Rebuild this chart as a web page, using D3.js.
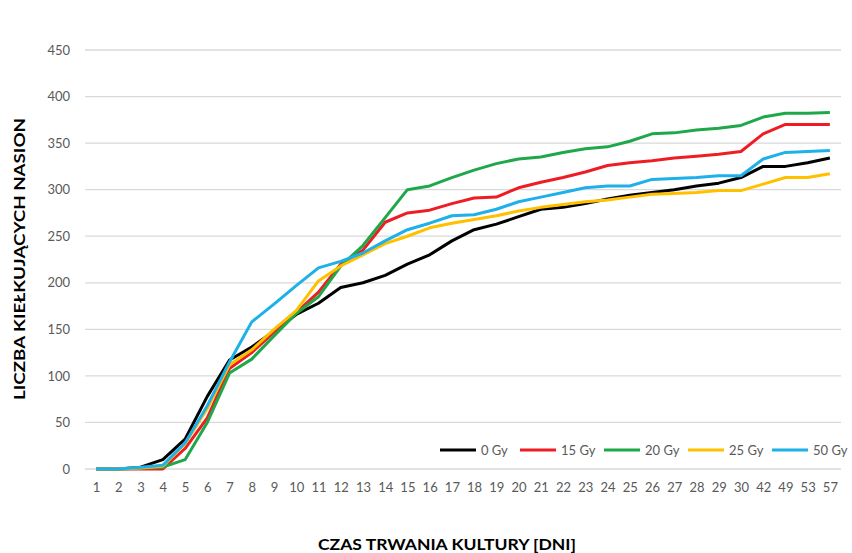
<!DOCTYPE html>
<html>
<head>
<meta charset="utf-8">
<script src="https://cdn.jsdelivr.net/npm/d3@7"></script>
<style>
  body { margin: 0; background: #fff; }
  svg { display: block; font-family: Lato, "Open Sans", sans-serif; }
</style>
</head>
<body>
<div id="chart"></div>
<script>
// days of culture (x categories)
const days = ["1","2","3","4","5","6","7","8","9","10","11","12","13","14","15","16","17",
  "18","19","20","21","22","23","24","25","26","27","28","29","30","42","49","53","57"];

// germinating seeds per dose
const gy0  = [0,0,2,10,32,78,117,131,148,166,178,195,200,208,220,230,245,257,263,271,279,281,285,290,294,297,300,304,307,313,325,325,329,334];
const gy15 = [0,0,0,0,22,55,108,125,147,168,190,220,235,265,275,278,285,291,292,302,308,313,319,326,329,331,334,336,338,341,360,370,370,370];
const gy20 = [0,0,1,2,10,50,103,118,143,167,185,218,240,270,300,304,313,321,328,333,335,340,344,346,352,360,361,364,366,369,378,382,382,383];
const gy25 = [0,0,1,3,27,65,112,128,150,170,202,218,230,242,250,259,264,268,272,277,281,284,287,289,292,295,296,297,299,299,306,313,313,317];
const gy50 = [0,0,2,4,28,68,115,158,177,197,216,223,232,245,257,264,272,273,279,287,292,297,302,304,304,311,312,313,315,315,333,340,341,342];

const seriesNames = ["0 Gy","15 Gy","20 Gy","25 Gy","50 Gy"];
const seriesColors = ["#000000","#EE1D24","#1FA84A","#FFC000","#1EB0E8"];
const yTicks = [0,50,100,150,200,250,300,350,400,450];

const series = [gy0, gy15, gy20, gy25, gy50].map((vals, i) => ({
  name: seriesNames[i], color: seriesColors[i], values: vals
}));

var width = 852, height = 553;
var margin = {top: 50, right: 11, bottom: 84, left: 85};
var innerW = width - margin.left - margin.right,
    innerH = height - margin.top - margin.bottom;

var svg = d3.select("#chart").append("svg")
  .attr("width", width).attr("height", height);

var g = svg.append("g")
  .attr("transform", "translate(" + margin.left + "," + margin.top + ")");

var x = d3.scalePoint().domain(days).range([0, innerW]).padding(0.5);
var y = d3.scaleLinear().domain([0, 450]).range([innerH, 0]);

// gridlines
g.append("g").selectAll("line")
  .data(yTicks).enter().append("line")
  .attr("x1", 0).attr("x2", innerW)
  .attr("y1", d => y(d)).attr("y2", d => y(d))
  .attr("stroke", "#D9D9D9").attr("stroke-width", 1.3);

// y axis labels
var yAxis = g.append("g").call(d3.axisLeft(y).tickValues(yTicks).tickSize(0).tickPadding(15));
yAxis.select(".domain").remove();
yAxis.selectAll("text").attr("fill", "#595959").style("font-size", "13px")
  .style("font-family", "Lato, 'Open Sans', sans-serif");

// x axis labels
var xAxis = g.append("g").attr("transform", "translate(0," + innerH + ")")
  .call(d3.axisBottom(x).tickSize(0).tickPadding(14));
xAxis.select(".domain").remove();
xAxis.selectAll("text").attr("fill", "#595959").style("font-size", "13px")
  .style("font-family", "Lato, 'Open Sans', sans-serif");

// lines
var line = d3.line()
  .x((d, i) => x(days[i]))
  .y(d => y(d));

g.append("g").selectAll("path")
  .data(series).enter().append("path")
  .attr("d", d => line(d.values))
  .attr("fill", "none")
  .attr("stroke", d => d.color)
  .attr("stroke-width", 3)
  .attr("stroke-linejoin", "round");

// legend
var legendX = [440, 520, 604, 688, 772];
var legend = svg.append("g").attr("transform", "translate(0,450)");
var items = legend.selectAll("g").data(series).enter().append("g")
  .attr("transform", (d, i) => "translate(" + legendX[i] + ",0)");
items.append("line").attr("x1", 0).attr("x2", 36).attr("y1", 0).attr("y2", 0)
  .attr("stroke", d => d.color).attr("stroke-width", 3);
items.append("text").attr("x", 41).attr("y", 5)
  .attr("fill", "#595959").style("font-size", "13px")
  .text(d => d.name);

// axis titles
svg.append("text")
  .attr("x", 447).attr("y", 550)
  .attr("text-anchor", "middle")
  .attr("textLength", 258).attr("lengthAdjust", "spacingAndGlyphs")
  .style("font-weight", "bold").style("font-size", "16px").attr("fill", "#000")
  .text("CZAS TRWANIA KULTURY [DNI]");

svg.append("text")
  .attr("transform", "translate(25,259) rotate(-90)")
  .attr("text-anchor", "middle")
  .attr("textLength", 282).attr("lengthAdjust", "spacingAndGlyphs")
  .style("font-weight", "bold").style("font-size", "15px").attr("fill", "#000")
  .text("LICZBA KIEŁKUJĄCYCH NASION");
</script>
</body>
</html>
